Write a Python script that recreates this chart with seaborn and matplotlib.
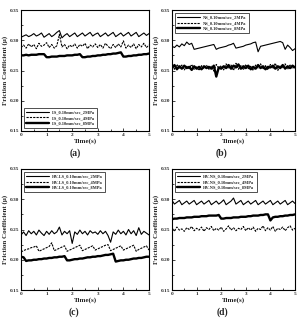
import numpy as np
import pandas as pd
import matplotlib
matplotlib.use("Agg")
import matplotlib.pyplot as plt
from matplotlib.ticker import MultipleLocator
import seaborn as sns

# time axis (s)
t = [0.0, 0.1, 0.2, 0.3, 0.4, 0.5, 0.6, 0.7, 0.8, 0.9,
     1.0, 1.1, 1.2, 1.3, 1.4, 1.5, 1.6, 1.7, 1.8, 1.9,
     2.0, 2.1, 2.2, 2.3, 2.4, 2.5, 2.6, 2.7, 2.8, 2.9,
     3.0, 3.1, 3.2, 3.3, 3.4, 3.5, 3.6, 3.7, 3.8, 3.9,
     4.0, 4.1, 4.2, 4.3, 4.4, 4.5, 4.6, 4.7, 4.8, 4.9, 5.0]

# (a) LS
ls_2 = [0.305, 0.307, 0.309, 0.306, 0.308, 0.311, 0.307, 0.309, 0.312, 0.305,
        0.308, 0.311, 0.306, 0.309, 0.313, 0.316, 0.304, 0.308, 0.311, 0.306,
        0.309, 0.312, 0.306, 0.309, 0.312, 0.307, 0.310, 0.313, 0.307, 0.310,
        0.312, 0.306, 0.309, 0.312, 0.307, 0.310, 0.313, 0.306, 0.309, 0.312,
        0.307, 0.310, 0.313, 0.307, 0.310, 0.313, 0.306, 0.309, 0.312, 0.308, 0.311]
ls_4 = [0.288, 0.292, 0.287, 0.294, 0.289, 0.293, 0.286, 0.295, 0.290, 0.292,
        0.296, 0.288, 0.293, 0.287, 0.291, 0.310, 0.289, 0.293, 0.286, 0.292,
        0.289, 0.294, 0.287, 0.293, 0.290, 0.295, 0.286, 0.292, 0.289, 0.294,
        0.288, 0.293, 0.287, 0.295, 0.290, 0.286, 0.293, 0.288, 0.294, 0.289,
        0.299, 0.287, 0.292, 0.288, 0.294, 0.286, 0.293, 0.289, 0.295, 0.288, 0.292]
ls_8 = [0.275, 0.275, 0.276, 0.275, 0.276, 0.276, 0.276, 0.277, 0.277, 0.277,
        0.272, 0.272, 0.273, 0.273, 0.273, 0.274, 0.274, 0.274, 0.275, 0.275,
        0.275, 0.276, 0.276, 0.277, 0.272, 0.272, 0.273, 0.273, 0.274, 0.274,
        0.275, 0.275, 0.276, 0.276, 0.277, 0.277, 0.278, 0.278, 0.279, 0.280,
        0.273, 0.273, 0.274, 0.274, 0.275, 0.275, 0.276, 0.276, 0.277, 0.277, 0.278]

# (b) NS
ns_2 = [0.290, 0.288, 0.292, 0.289, 0.294, 0.291, 0.297, 0.293, 0.295, 0.285,
        0.286, 0.287, 0.288, 0.289, 0.290, 0.291, 0.292, 0.293, 0.285, 0.287,
        0.288, 0.289, 0.290, 0.292, 0.293, 0.295, 0.287, 0.288, 0.289, 0.290,
        0.292, 0.293, 0.294, 0.296, 0.297, 0.281, 0.290, 0.291, 0.292, 0.293,
        0.294, 0.295, 0.296, 0.297, 0.298, 0.296, 0.285, 0.292, 0.288, 0.283, 0.286]
ns_4 = [0.258, 0.252, 0.260, 0.254, 0.259, 0.251, 0.257, 0.253, 0.260, 0.252,
        0.256, 0.250, 0.258, 0.253, 0.259, 0.252, 0.257, 0.249, 0.260, 0.254,
        0.258, 0.251, 0.261, 0.253, 0.259, 0.250, 0.262, 0.252, 0.258, 0.251,
        0.260, 0.253, 0.257, 0.250, 0.259, 0.254, 0.261, 0.252, 0.258, 0.251,
        0.260, 0.253, 0.262, 0.250, 0.258, 0.254, 0.261, 0.252, 0.259, 0.253, 0.257]
ns_8 = [0.254, 0.259, 0.252, 0.257, 0.253, 0.258, 0.254, 0.256, 0.251, 0.257,
        0.253, 0.256, 0.252, 0.257, 0.254, 0.256, 0.253, 0.258, 0.240, 0.255,
        0.253, 0.257, 0.254, 0.259, 0.253, 0.258, 0.255, 0.260, 0.253, 0.257,
        0.254, 0.258, 0.252, 0.256, 0.253, 0.259, 0.254, 0.257, 0.252, 0.256,
        0.255, 0.258, 0.253, 0.257, 0.254, 0.259, 0.253, 0.257, 0.254, 0.258, 0.255]

# (c) HV-LS
hls_2 = [0.241, 0.246, 0.240, 0.248, 0.243, 0.247, 0.241, 0.249, 0.244, 0.240,
         0.247, 0.242, 0.248, 0.243, 0.246, 0.254, 0.241, 0.247, 0.243, 0.248,
         0.227, 0.246, 0.242, 0.249, 0.243, 0.247, 0.241, 0.248, 0.244, 0.246,
         0.242, 0.248, 0.243, 0.247, 0.240, 0.229, 0.246, 0.242, 0.249, 0.243,
         0.247, 0.241, 0.250, 0.243, 0.248, 0.240, 0.253, 0.242, 0.247, 0.244, 0.241]
hls_4 = [0.213, 0.215, 0.217, 0.218, 0.220, 0.221, 0.223, 0.214, 0.216, 0.218,
         0.220, 0.222, 0.228, 0.215, 0.217, 0.219, 0.221, 0.223, 0.214, 0.216,
         0.218, 0.220, 0.222, 0.224, 0.215, 0.217, 0.219, 0.221, 0.223, 0.216,
         0.218, 0.220, 0.222, 0.224, 0.225, 0.215, 0.217, 0.219, 0.221, 0.223,
         0.216, 0.218, 0.220, 0.222, 0.224, 0.214, 0.217, 0.219, 0.221, 0.223, 0.216]
hls_8 = [0.205, 0.204, 0.198, 0.199, 0.199, 0.200, 0.200, 0.201, 0.201, 0.202,
         0.202, 0.203, 0.203, 0.204, 0.204, 0.205, 0.205, 0.206, 0.199, 0.199,
         0.200, 0.201, 0.201, 0.202, 0.202, 0.203, 0.204, 0.204, 0.205, 0.205,
         0.206, 0.206, 0.207, 0.208, 0.208, 0.209, 0.210, 0.197, 0.198, 0.199,
         0.199, 0.200, 0.200, 0.201, 0.202, 0.202, 0.203, 0.203, 0.204, 0.205, 0.205]

# (d) HV-NS
hns_2 = [0.298, 0.292, 0.295, 0.298, 0.291, 0.294, 0.297, 0.292, 0.295, 0.298,
         0.291, 0.294, 0.297, 0.292, 0.295, 0.298, 0.291, 0.294, 0.297, 0.292,
         0.295, 0.299, 0.291, 0.294, 0.297, 0.302, 0.292, 0.295, 0.298, 0.291,
         0.294, 0.297, 0.292, 0.295, 0.298, 0.291, 0.294, 0.297, 0.292, 0.295,
         0.298, 0.291, 0.294, 0.297, 0.292, 0.295, 0.298, 0.291, 0.294, 0.297, 0.293]
hns_4 = [0.252, 0.248, 0.254, 0.249, 0.251, 0.247, 0.253, 0.250, 0.255, 0.248,
         0.252, 0.249, 0.254, 0.247, 0.253, 0.250, 0.255, 0.248, 0.252, 0.249,
         0.254, 0.247, 0.251, 0.256, 0.249, 0.253, 0.248, 0.252, 0.250, 0.255,
         0.248, 0.253, 0.249, 0.254, 0.247, 0.252, 0.250, 0.256, 0.248, 0.253,
         0.249, 0.255, 0.247, 0.252, 0.250, 0.254, 0.248, 0.253, 0.256, 0.249, 0.252]
hns_8 = [0.267, 0.268, 0.268, 0.269, 0.269, 0.269, 0.270, 0.270, 0.270, 0.271,
         0.271, 0.271, 0.272, 0.272, 0.272, 0.273, 0.273, 0.273, 0.273, 0.274,
         0.268, 0.268, 0.269, 0.269, 0.269, 0.270, 0.270, 0.270, 0.271, 0.271,
         0.271, 0.272, 0.272, 0.273, 0.273, 0.273, 0.274, 0.274, 0.275, 0.275,
         0.265, 0.270, 0.271, 0.271, 0.272, 0.272, 0.273, 0.273, 0.274, 0.274, 0.275]

pressures = ["2MPa", "4MPa", "8MPa"]
yticks = [0.15, 0.20, 0.25, 0.30, 0.35]

sns.set_style("ticks")
plt.rcParams["font.family"] = ["Liberation Serif", "DejaVu Serif"]
plt.rcParams["font.weight"] = "bold"

fig = plt.figure(figsize=(2.97, 3.24), dpi=100)

W, H = 297, 324
# axes boxes in pixels: left, top, right, bottom
boxes = [(21, 10, 149, 131), (172, 10, 295, 131),
         (21, 169, 149, 290), (172, 169, 295, 290)]
panels = [("LS", ls_2, ls_4, ls_8, "lower left", "(a)", 75),
          ("NS", ns_2, ns_4, ns_8, "upper left", "(b)", 222),
          ("HV-LS", hls_2, hls_4, hls_8, "upper left", "(c)", 74),
          ("HV-NS", hns_2, hns_4, hns_8, "upper left", "(d)", 222)]

styles = [dict(lw=0.8, ls="-"), dict(lw=0.8, ls=(0, (2, 1))), dict(lw=1.7, ls="-")]

for (l, tp, r, b), (name, s2, s4, s8, loc, tag, tx) in zip(boxes, panels):
    ax = fig.add_axes([l / W, 1 - b / H, (r - l) / W, (b - tp) / H])
    for p, s, st in zip(pressures, [s2, s4, s8], styles):
        sns.lineplot(x=t, y=s, ax=ax, color="black", linewidth=st["lw"],
                     linestyle=st["ls"], label=f"{name}_0.10mm/sec_{p}")
    ax.set_xlim(0, 5)
    ax.set_ylim(0.15, 0.35)
    ax.set_yticks(yticks)
    ax.set_yticklabels([f"{v:.2f}" for v in yticks])
    ax.xaxis.set_major_locator(MultipleLocator(1))
    ax.xaxis.set_minor_locator(MultipleLocator(0.5))
    ax.yaxis.set_minor_locator(MultipleLocator(0.025))
    ax.tick_params(which="both", direction="in", labelsize=3.8, width=0.6, pad=1.5)
    ax.tick_params(which="major", length=2.5)
    ax.tick_params(which="minor", length=1.5)
    for sp in ax.spines.values():
        sp.set_linewidth(0.8)
        sp.set_color("black")
    ax.set_xlabel("Time(s)", fontsize=5, fontweight="bold", labelpad=0.5)
    ax.set_ylabel("Friction Coefficient (\u03bc)", fontsize=5, fontweight="bold", labelpad=1)
    leg = ax.legend(loc=loc, fontsize=3.2, handlelength=5, frameon=True, fancybox=False,
                    borderpad=0.5, labelspacing=0.35, handletextpad=0.8,
                    borderaxespad=0.7)
    leg.get_frame().set_edgecolor("black")
    leg.get_frame().set_linewidth(0.6)
    fig.text(tx / W, 1 - (b + 22) / H, tag, ha="center", va="center",
             fontsize=7, fontweight="bold")

fig.savefig("out.png", dpi=100)
